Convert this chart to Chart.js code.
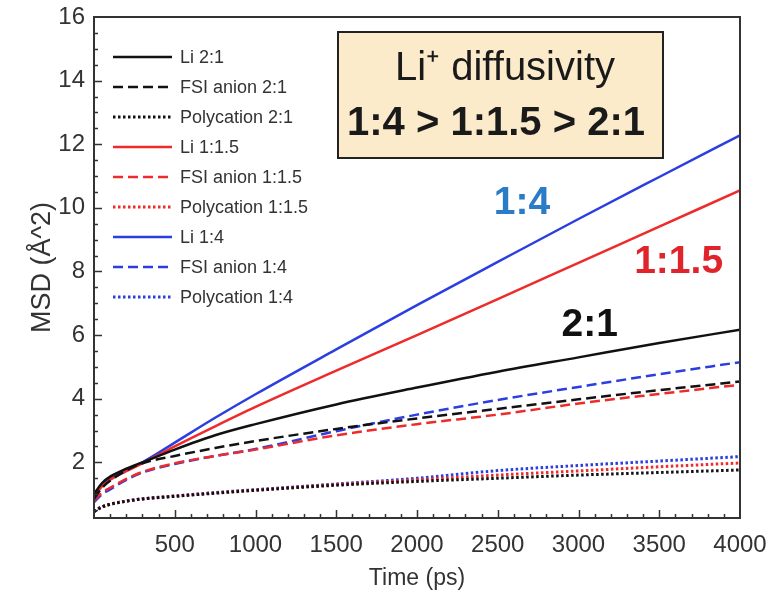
<!DOCTYPE html>
<html>
<head>
<meta charset="utf-8">
<script src="https://cdn.jsdelivr.net/npm/chart.js@4.4.1/dist/chart.umd.min.js"></script>
<style>
  html, body { margin: 0; padding: 0; background: #ffffff; }
  #wrap { width: 778px; height: 600px; position: relative; }
  canvas { display: block; }
</style>
</head>
<body>
<div id="wrap"><canvas id="c" width="778" height="600"></canvas></div>
<script>
// ---- Data ----
const times = [0, 50, 100, 200, 300, 500, 750, 1000, 1500, 2000, 2500, 3000, 3500, 4000];

const li_2_1    = [1.0, 1.35, 1.55, 1.8, 2.0, 2.4, 2.85, 3.2, 3.82, 4.35, 4.85, 5.3, 5.75, 6.17];
const fsi_2_1   = [0.85, 1.2, 1.42, 1.75, 1.97, 2.2, 2.45, 2.67, 3.05, 3.38, 3.68, 3.98, 4.27, 4.54];
const poly_2_1  = [0.45, 0.6, 0.68, 0.78, 0.85, 0.93, 1.03, 1.12, 1.28, 1.4, 1.5, 1.6, 1.68, 1.76];
const li_1_15   = [0.9, 1.25, 1.45, 1.72, 1.97, 2.5, 3.13, 3.74, 4.88, 6.0, 7.13, 8.27, 9.41, 10.55];
const fsi_1_15  = [0.8, 1.05, 1.2, 1.48, 1.7, 1.97, 2.2, 2.4, 2.85, 3.2, 3.5, 3.85, 4.15, 4.44];
const poly_1_15 = [0.45, 0.6, 0.68, 0.78, 0.85, 0.94, 1.04, 1.13, 1.3, 1.45, 1.6, 1.73, 1.86, 1.98];
const li_1_4    = [0.95, 1.3, 1.5, 1.75, 2.0, 2.62, 3.4, 4.14, 5.55, 6.94, 8.3, 9.65, 10.97, 12.28];
const fsi_1_4   = [0.75, 1.0, 1.15, 1.45, 1.68, 1.95, 2.2, 2.42, 2.98, 3.5, 3.96, 4.37, 4.77, 5.15];
const poly_1_4  = [0.45, 0.6, 0.68, 0.78, 0.85, 0.94, 1.05, 1.14, 1.32, 1.5, 1.74, 1.9, 2.04, 2.18];

const seriesNames = [
  "Li 2:1", "FSI anion 2:1", "Polycation 2:1",
  "Li 1:1.5", "FSI anion 1:1.5", "Polycation 1:1.5",
  "Li 1:4", "FSI anion 1:4", "Polycation 1:4"
];
const seriesValues = [li_2_1, fsi_2_1, poly_2_1, li_1_15, fsi_1_15, poly_1_15, li_1_4, fsi_1_4, poly_1_4];

const xTickLabels = [500, 1000, 1500, 2000, 2500, 3000, 3500, 4000];
const yTickLabels = [2, 4, 6, 8, 10, 12, 14, 16];

const boxLine1 = "Li\u207A diffusivity";
const boxLine2 = "1:4 > 1:1.5 > 2:1";
const annotations = [
  { text: "1:4",   x: 2650, y: 10.15 },
  { text: "1:1.5", x: 3620, y: 8.3 },
  { text: "2:1",   x: 3070, y: 6.3 }
];
const xTitle = "Time (ps)";
const yTitle = "MSD (\u00C5^2)";

// ---- Styles ----
const BLACK = "#111111", RED = "#ee2b2b", BLUE = "#2b3ee0";
const colors = [BLACK, BLACK, BLACK, RED, RED, RED, BLUE, BLUE, BLUE];
const dashStyles = [[], [10, 5], [2.5, 2.5]];
const annColors = ["#2a7cc6", "#e0242c", "#111111"];
const FONT = "'Liberation Sans', Arial, Helvetica, sans-serif";

const datasets = seriesValues.map((vals, i) => ({
  label: seriesNames[i],
  data: times.map((t, j) => ({ x: t, y: vals[j] })),
  borderColor: colors[i],
  backgroundColor: colors[i],
  borderWidth: (i % 3 === 2) ? 3 : 2.5,
  borderDash: dashStyles[i % 3],
  pointRadius: 0,
  fill: false,
  cubicInterpolationMode: 'monotone',
  tension: 0.4
}));

const decor = {
  id: 'decor',
  afterDraw(chart) {
    const ctx = chart.ctx;
    const a = chart.chartArea;
    const xs = chart.scales.x, ys = chart.scales.y;
    ctx.save();
    // frame
    ctx.strokeStyle = "#333333";
    ctx.lineWidth = 2;
    ctx.strokeRect(a.left, a.top, a.right - a.left, a.bottom - a.top);
    // inward ticks
    ctx.lineWidth = 1.5;
    ctx.beginPath();
    for (let v = 100; v < 4000; v += 100) {
      const px = Math.round(xs.getPixelForValue(v)) + 0.5;
      const len = (v % 500 === 0) ? 8 : 4;
      ctx.moveTo(px, a.bottom); ctx.lineTo(px, a.bottom - len);
    }
    for (let v = 0.5; v < 16; v += 0.5) {
      const py = Math.round(ys.getPixelForValue(v)) + 0.5;
      if (py > a.bottom - 1) continue;
      const len = (v % 2 === 0) ? 8 : 4;
      ctx.moveTo(a.left, py); ctx.lineTo(a.left + len, py);
    }
    ctx.stroke();

    // legend
    const lx0 = 113, lx1 = 172, ly0 = 57, ldy = 30;
    ctx.font = "18px " + FONT;
    ctx.textBaseline = "middle";
    ctx.textAlign = "left";
    chart.data.datasets.forEach((ds, i) => {
      const y = ly0 + i * ldy;
      ctx.strokeStyle = ds.borderColor;
      ctx.lineWidth = ds.borderWidth;
      ctx.setLineDash(ds.borderDash);
      ctx.beginPath(); ctx.moveTo(lx0, y); ctx.lineTo(lx1, y); ctx.stroke();
      ctx.setLineDash([]);
      ctx.fillStyle = "#333333";
      ctx.fillText(ds.label, 180, y + 1);
    });

    // info box
    ctx.fillStyle = "#fcebcb";
    ctx.fillRect(338, 32, 325, 126);
    ctx.strokeStyle = "#222222";
    ctx.lineWidth = 2;
    ctx.strokeRect(338, 32, 325, 126);
    ctx.fillStyle = "#1a1a1a";
    ctx.textAlign = "center";
    ctx.textBaseline = "alphabetic";
    ctx.font = "40px " + FONT;
    ctx.fillText(boxLine1, 505, 80);
    ctx.font = "bold 40px " + FONT;
    ctx.fillText(boxLine2, 496, 135);

    // annotations
    ctx.font = "bold 39px " + FONT;
    ctx.textBaseline = "middle";
    annotations.forEach((an, i) => {
      ctx.fillStyle = annColors[i];
      ctx.fillText(an.text, xs.getPixelForValue(an.x), ys.getPixelForValue(an.y));
    });

    // axis titles
    ctx.fillStyle = "#333333";
    ctx.font = "23px " + FONT;
    ctx.textAlign = "center";
    ctx.textBaseline = "alphabetic";
    ctx.fillText(xTitle, (a.left + a.right) / 2, 585);
    ctx.save();
    ctx.translate(50, (a.top + a.bottom) / 2);
    ctx.rotate(-Math.PI / 2);
    ctx.font = "27px " + FONT;
    ctx.fillText(yTitle, 0, 0);
    ctx.restore();
    ctx.restore();
  }
};

new Chart(document.getElementById('c'), {
  type: 'line',
  data: { datasets },
  options: {
    responsive: false,
    animation: false,
    events: [],
    layout: { padding: { top: 17, right: 38, left: 0, bottom: 0 } },
    plugins: { legend: { display: false }, tooltip: { enabled: false }, title: { display: false } },
    scales: {
      x: {
        type: 'linear', min: 0, max: 4000,
        afterBuildTicks: s => { s.ticks = xTickLabels.map(v => ({ value: v })); },
        afterFit: s => { s.height = 82; s.paddingLeft = 0; s.paddingRight = 0; },
        grid: { display: false, drawTicks: false },
        border: { display: false },
        ticks: { color: "#333333", font: { family: FONT, size: 24 }, padding: 13, maxRotation: 0, autoSkip: false,
                 callback: v => String(v) }
      },
      y: {
        type: 'linear', min: 0.25, max: 16,
        afterBuildTicks: s => { s.ticks = yTickLabels.map(v => ({ value: v })); },
        afterFit: s => { s.width = 94; s.paddingTop = 0; s.paddingBottom = 0; },
        grid: { display: false, drawTicks: false },
        border: { display: false },
        ticks: { color: "#333333", font: { family: FONT, size: 24 }, padding: 9, autoSkip: false,
                 callback: v => String(v) }
      }
    }
  },
  plugins: [decor]
});
</script>
</body>
</html>
